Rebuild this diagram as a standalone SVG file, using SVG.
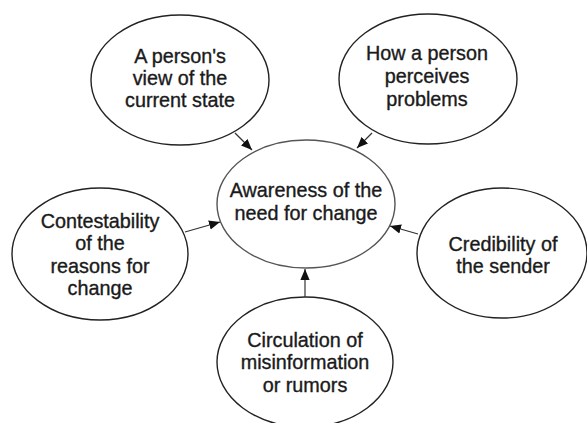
<svg xmlns="http://www.w3.org/2000/svg" width="587" height="423" viewBox="0 0 587 423">
<style>
.n ellipse{fill:#fff;stroke:#222;stroke-width:1.4}
.n text{font-family:"Liberation Sans",Arial,sans-serif;font-size:19.8px;fill:#1a1a1a;stroke:#1a1a1a;stroke-width:0.35;text-anchor:middle}
.c line{stroke:#333;stroke-width:1.2;marker-end:url(#ah)}
</style>
<defs>
<marker id="ah" viewBox="0 0 10 10" refX="10" refY="5" markerWidth="11" markerHeight="11" markerUnits="userSpaceOnUse" orient="auto">
<path d="M0,0.8 L10,5 L0,9.2 Z" fill="#111"/>
</marker>
</defs>
<rect width="587" height="423" fill="#fff"/>
<g id="n-center" class="n">
<ellipse cx="306" cy="204" rx="89" ry="64" style="stroke:#555"/>
<text x="306" y="197">Awareness of the</text>
<text x="306" y="220">need for change</text>
</g>
<g id="n-view" class="n">
<ellipse cx="180" cy="80" rx="89" ry="65"/>
<text x="180" y="63">A person's</text>
<text x="180" y="85">view of the</text>
<text x="180" y="107">current state</text>
</g>
<g id="n-perceive" class="n">
<ellipse cx="428" cy="79" rx="89" ry="65"/>
<text x="427" y="60">How a person</text>
<text x="427" y="83">perceives</text>
<text x="427" y="106">problems</text>
</g>
<g id="n-contest" class="n">
<ellipse cx="100" cy="254" rx="88" ry="66"/>
<text x="100" y="228">Contestability</text>
<text x="100" y="250">of the</text>
<text x="100" y="273">reasons for</text>
<text x="100" y="295">change</text>
</g>
<g id="n-cred" class="n">
<ellipse cx="502" cy="253" rx="85" ry="65"/>
<text x="503" y="251">Credibility of</text>
<text x="503" y="273">the sender</text>
</g>
<g id="n-circ" class="n">
<ellipse cx="305" cy="362" rx="88" ry="65"/>
<text x="305" y="347">Circulation of</text>
<text x="305" y="369">misinformation</text>
<text x="305" y="392">or rumors</text>
</g>
<g id="connectors" class="c">
<line x1="235" y1="133" x2="252" y2="150"/>
<line x1="372" y1="133" x2="357" y2="148"/>
<line x1="185" y1="232" x2="220" y2="222"/>
<line x1="418" y1="234" x2="390" y2="226"/>
<line x1="305" y1="297" x2="305" y2="269"/>
</g>
</svg>
